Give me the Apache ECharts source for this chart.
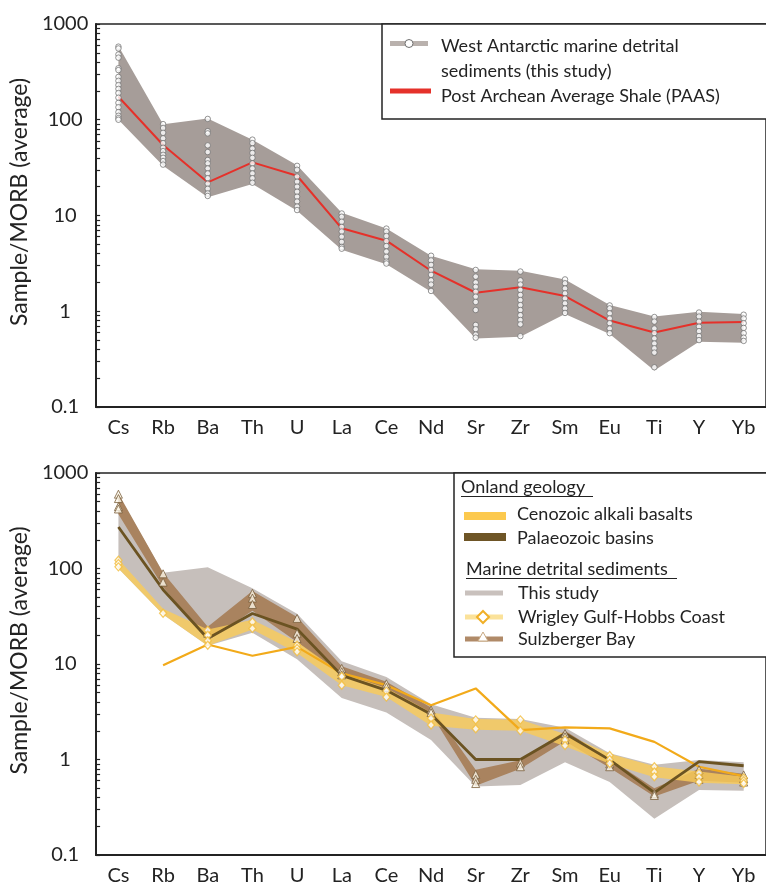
<!DOCTYPE html>
<html>
<head>
<meta charset="utf-8">
<script src="https://cdn.jsdelivr.net/npm/echarts@6/dist/echarts.min.js"></script>
<style>
  html, body { margin: 0; padding: 0; background: #fff; }
  #chart { width: 766px; height: 887px; }
</style>
</head>
<body>
<div id="chart"></div>
<script>
// Trace elements, normalised to average MORB
const elements = ['Cs', 'Rb', 'Ba', 'Th', 'U', 'La', 'Ce', 'Nd', 'Sr', 'Zr', 'Sm', 'Eu', 'Ti', 'Y', 'Yb'];
const yTickLabels = [0.1, 1, 10, 100, 1000];

// West Antarctic marine detrital sediments (this study): envelope and individual samples
const studyMax = [590, 90, 103, 62, 33.5, 10.7, 7.3, 3.8, 2.74, 2.65, 2.15, 1.16, 0.88, 0.99, 0.935];
const studyMin = [100, 33, 15.5, 21.3, 11.2, 4.4, 3.1, 1.6, 0.52, 0.54, 0.935, 0.58, 0.24, 0.48, 0.47];
const studySamples = [
  [580, 555, 480, 445, 345, 330, 280, 255, 230, 210, 190, 170, 150, 135, 120, 110, 104, 100],
  [90, 82, 73, 64, 57, 51, 47, 43, 40, 37, 34],
  [102, 76, 72, 54, 46, 38, 35, 31, 27.5, 24.5, 21.5, 19, 17, 16],
  [62, 57, 50, 45, 40, 35, 31, 27.5, 24.5, 22],
  [33, 30, 25.5, 22.5, 20, 17.7, 15.7, 14, 12.4, 11.4],
  [10.5, 9.7, 8.6, 7.6, 6.8, 6.0, 5.3, 4.7, 4.5],
  [7.3, 6.8, 6.1, 5.4, 4.8, 4.2, 3.7, 3.3, 3.15],
  [3.8, 3.4, 3.05, 2.7, 2.4, 2.1, 1.9, 1.63],
  [2.7, 2.3, 2.0, 1.8, 1.6, 1.42, 1.25, 1.03, 0.72, 0.65, 0.57, 0.53],
  [2.6, 2.1, 1.9, 1.67, 1.48, 1.31, 1.16, 1.03, 0.91, 0.81, 0.73, 0.55],
  [2.15, 1.96, 1.73, 1.54, 1.36, 1.21, 1.07, 0.96],
  [1.15, 1.07, 0.95, 0.84, 0.75, 0.66, 0.59],
  [0.87, 0.78, 0.66, 0.59, 0.52, 0.46, 0.41, 0.37, 0.26],
  [0.97, 0.88, 0.78, 0.69, 0.62, 0.55, 0.5],
  [0.92, 0.84, 0.75, 0.67, 0.59, 0.53, 0.49]
];

// Post Archean Average Shale
const paas = [174, 54.5, 22.2, 35.9, 26, 7.35, 5.46, 2.65, 1.56, 1.78, 1.44, 0.8, 0.6, 0.76, 0.77];

// Onland geology
const cenozoicBasalts = [null, 9.7, 16, 12.2, 15.1, 8.0, 6.0, 3.7, 5.55, 2.03, 2.17, 2.12, 1.53, 0.84, 0.67];
const palaeozoicBasins = [272, 60, 18.5, 33.8, 23.2, 7.6, 5.3, 2.98, 1.0, 1.0, 1.87, 0.99, 0.45, 0.95, 0.86];

// Marine detrital sediments from other areas
const wrigleyMax = [125, 38, 23, 29, 17, 8, 5.6, 3.1, 2.65, 2.6, 1.85, 1.15, 0.85, 0.75, 0.66];
const wrigleyMin = [100, 33, 15.5, 23, 13, 6, 4.5, 2.25, 2.05, 2.0, 1.38, 0.9, 0.65, 0.57, 0.55];
const wrigleySamples = [
  [122, 113, 104], [34], [22.6, 20, 17.5, 15.7], [27.6, 23.5], [15.7, 14.5, 13.4],
  [7.4, 6.0], [5.2, 4.5], [2.7, 2.3], [2.6, 2.1], [2.6, 2.0],
  [1.6, 1.4], [1.1, 1.0, 0.91], [0.84, 0.74, 0.66], [0.72, 0.65, 0.58], [0.64, 0.6, 0.56]
];
const sulzbergerMax = [610, 90, 24.5, 58, 31, 9.5, 6.5, 3.5, 0.78, 0.98, 2.0, 1.02, 0.5, 0.8, 0.71];
const sulzbergerMin = [370, 64, 17.5, 36, 17, 7.5, 5.3, 3.0, 0.53, 0.8, 1.55, 0.82, 0.41, 0.6, 0.57];
const sulzbergerSamples = [
  [600, 540, 445, 420], [88, 72], [21], [55, 49, 42], [30, 21, 18.5],
  [9, 8.3, 7.7], [6.2, 5.7], [3.3, 3.1], [0.7, 0.62, 0.56], [0.92, 0.84],
  [1.87, 1.73, 1.6], [0.99, 0.9, 0.84], [0.44, 0.42], [0.78, 0.7, 0.62], [0.69, 0.63, 0.58]
];

// Log-axis tick marks at 1..9 x 10^k
const yTickMarks = [];
for (let e = -1; e < 3; e++) {
  for (let m = 1; m <= 9; m++) yTickMarks.push(+(m * Math.pow(10, e)).toPrecision(3));
}
yTickMarks.push(1000);

const FONT = 'Lato, "Open Sans", sans-serif';
const INK = '#232323';

function toPoints(groups) {
  const pts = [];
  groups.forEach((vals, i) => vals.forEach(v => pts.push([i, v])));
  return pts;
}

// Filled envelope between two value arrays, drawn through the axis scales
function band(idx, lower, upper, fill, z) {
  return {
    type: 'custom', xAxisIndex: idx, yAxisIndex: idx, silent: true, z: z,
    data: [[0, upper[0]]],
    renderItem: function (params, api) {
      const top = upper.map((v, i) => api.coord([i, v]));
      const bot = lower.map((v, i) => api.coord([i, v])).reverse();
      return { type: 'polygon', shape: { points: top.concat(bot) }, style: { fill: fill } };
    }
  };
}

function makeXAxis(idx) {
  return {
    type: 'category', gridIndex: idx, data: elements, boundaryGap: true,
    axisLine: { lineStyle: { color: INK, width: 2 } },
    axisTick: { alignWithLabel: true, inside: true, length: 5, lineStyle: { color: INK, width: 1.5 } },
    axisLabel: { fontFamily: FONT, fontSize: 20, color: INK, margin: 11 },
    splitLine: { show: false }
  };
}

function makeYAxis(idx) {
  return {
    type: 'log', gridIndex: idx, logBase: 10, min: 0.1, max: 1000,
    name: 'Sample/MORB (average)', nameLocation: 'middle', nameGap: 58,
    nameTextStyle: { fontFamily: FONT, fontSize: 23, color: INK, padding: [0, 0, 0, 27] },
    axisLine: { show: true, lineStyle: { color: INK, width: 2 } },
    axisTick: { show: true, inside: true, length: 4, customValues: yTickMarks, lineStyle: { color: INK, width: 1.2 } },
    axisLabel: {
      customValues: yTickLabels, fontFamily: FONT, fontSize: 20, color: INK,
      align: 'center', margin: 31, formatter: v => String(v)
    },
    splitLine: { show: false }
  };
}

// Legend boxes built from plain graphic elements
function legendText(x, y, text) {
  return {
    type: 'text', x: x, y: y, z: 100,
    style: { text: text, fontFamily: FONT, fontSize: 18, fill: INK, verticalAlign: 'middle', textAlign: 'left' }
  };
}
function legendBar(x, y, w, h, fill) {
  return { type: 'rect', z: 100, shape: { x: x, y: y - h / 2, width: w, height: h }, style: { fill: fill } };
}

const graphics = [
  // upper panel legend
  { type: 'rect', z: 99, shape: { x: 382, y: 24, width: 400, height: 95 }, style: { fill: '#fff', stroke: INK, lineWidth: 1.5 } },
  legendBar(390, 43.5, 38, 5, '#b9b1ad'),
  { type: 'circle', z: 101, shape: { cx: 409, cy: 43.5, r: 4 }, style: { fill: '#fff', stroke: '#707070', lineWidth: 1 } },
  legendText(441, 46, 'West Antarctic marine detrital'),
  legendText(441, 71, 'sediments (this study)'),
  legendBar(390, 91, 41, 5, '#e5312a'),
  legendText(441, 96, 'Post Archean Average Shale (PAAS)'),

  // lower panel legend
  { type: 'rect', z: 99, shape: { x: 454, y: 473, width: 330, height: 184 }, style: { fill: '#fff', stroke: INK, lineWidth: 1.5 } },
  legendText(461, 487, 'Onland geology'),
  { type: 'line', z: 100, shape: { x1: 461, y1: 496.5, x2: 593, y2: 496.5 }, style: { stroke: INK, lineWidth: 1.2 } },
  legendBar(464, 516, 42, 8, '#fcc94e'),
  legendText(517, 514, 'Cenozoic alkali basalts'),
  legendBar(464, 537, 42, 8, '#6e5526'),
  legendText(517, 538, 'Palaeozoic basins'),
  legendText(466, 569, 'Marine detrital sediments'),
  { type: 'line', z: 100, shape: { x1: 466, y1: 578.5, x2: 677, y2: 578.5 }, style: { stroke: INK, lineWidth: 1.2 } },
  legendBar(465, 593, 38, 5, '#c9c1bd'),
  legendText(518, 593, 'This study'),
  legendBar(465, 617, 38, 5, '#fbe29a'),
  { type: 'polygon', z: 101, shape: { points: [[483, 611], [489, 617], [483, 623], [477, 617]] }, style: { fill: '#fff', stroke: '#f0b028', lineWidth: 2 } },
  legendText(518, 617, 'Wrigley Gulf-Hobbs Coast'),
  legendBar(465, 639, 38, 5, '#b08a68'),
  { type: 'polygon', z: 101, shape: { points: [[483, 632], [488, 641], [478, 641]] }, style: { fill: '#fff', stroke: '#c8a982', lineWidth: 1 } },
  legendText(518, 639, 'Sulzberger Bay')
];

const chart = echarts.init(document.getElementById('chart'), null, { renderer: 'canvas' });
chart.setOption({
  animation: false,
  backgroundColor: '#fff',
  grid: [
    { left: 95, top: 24, width: 673.5, height: 383, show: true, borderColor: INK, borderWidth: 1.5, backgroundColor: 'transparent' },
    { left: 95, top: 473, width: 673.5, height: 382, show: true, borderColor: INK, borderWidth: 1.5, backgroundColor: 'transparent' }
  ],
  xAxis: [makeXAxis(0), makeXAxis(1)],
  yAxis: [makeYAxis(0), makeYAxis(1)],
  graphic: graphics,
  series: [
    // upper panel
    band(0, studyMin, studyMax, '#a69d99', 1),
    {
      type: 'line', xAxisIndex: 0, yAxisIndex: 0, data: paas, z: 3,
      showSymbol: false, lineStyle: { color: '#e5312a', width: 2 }
    },
    {
      type: 'scatter', xAxisIndex: 0, yAxisIndex: 0, data: toPoints(studySamples), z: 4,
      symbol: 'circle', symbolSize: 5.5,
      itemStyle: { color: '#fff', borderColor: '#6a6a6a', borderWidth: 0.9 }
    },

    // lower panel
    band(1, studyMin, studyMax, '#c6bfbb', 1),
    band(1, sulzbergerMin, sulzbergerMax, '#a9835f', 2),
    band(1, wrigleyMin, wrigleyMax, 'rgba(250,204,88,0.8)', 3),
    {
      type: 'line', xAxisIndex: 1, yAxisIndex: 1, data: cenozoicBasalts, z: 4,
      showSymbol: false, connectNulls: false, lineStyle: { color: '#f2aa1a', width: 2.2 }
    },
    {
      type: 'line', xAxisIndex: 1, yAxisIndex: 1, data: palaeozoicBasins, z: 4,
      showSymbol: false, lineStyle: { color: '#6b5322', width: 2.8 }
    },
    {
      type: 'scatter', xAxisIndex: 1, yAxisIndex: 1, data: toPoints(sulzbergerSamples), z: 5,
      symbol: 'triangle', symbolSize: 8,
      itemStyle: { color: '#fbf6e9', borderColor: '#7b5f3c', borderWidth: 1 }
    },
    {
      type: 'scatter', xAxisIndex: 1, yAxisIndex: 1, data: toPoints(wrigleySamples), z: 5,
      symbol: 'diamond', symbolSize: [7, 8],
      itemStyle: { color: '#fff', borderColor: '#f3bd3c', borderWidth: 1.3 }
    }
  ]
});
</script>
</body>
</html>
